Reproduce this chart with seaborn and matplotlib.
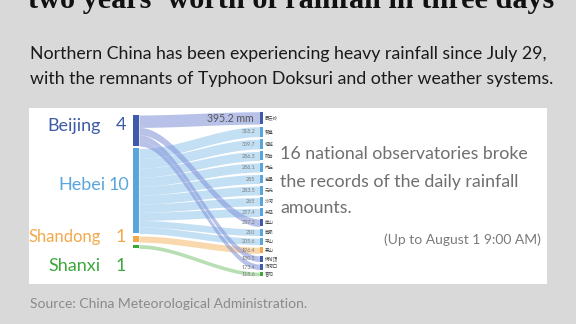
import numpy as np
import matplotlib
matplotlib.use("Agg")
import matplotlib.pyplot as plt
import seaborn as sns
from matplotlib.patches import Rectangle

# ---- data -------------------------------------------------------------
provinces = ["Beijing", "Hebei", "Shandong", "Shanxi"]
province_counts = [4, 10, 1, 1]

stations = ["霞云岭", "赞皇", "临城", "邢台", "内丘", "高邑", "元氏", "沙河",
            "井陉", "房山", "鹿泉", "平山", "泰山", "佛爷顶", "汤河口", "昔阳"]
station_province = ["Beijing", "Hebei", "Hebei", "Hebei", "Hebei", "Hebei",
                    "Hebei", "Hebei", "Hebei", "Beijing", "Hebei", "Hebei",
                    "Shandong", "Beijing", "Beijing", "Shanxi"]
rainfall_mm = [395.2, 318.2, 309.7, 286.3, 286.1, 285.0, 283.5, 265.0,
               257.4, 237.2, 210.0, 205.6, 196.4, 180.5, 173.4, 118.6]
rainfall_labels = ["395.2 mm", "318.2", "309.7", "286.3", "286.1", "285",
                   "283.5", "265", "257.4", "237.2", "210", "205.6", "196.4",
                   "180.5", "173.4", "118.6"]

# ---- style ------------------------------------------------------------
sns.set_theme(style="white")
plt.rcParams["font.family"] = ["Lato", "DejaVu Sans"]

node_colors = dict(zip(provinces, ["#3d5ba8", "#5aa6dc", "#f4a84a", "#3ca83c"]))
flow_colors = dict(zip(provinces, ["#7f91d8", "#9ccbee", "#f8cc92", "#9fd59a"]))
flow_alpha = dict(zip(provinces, [0.55, 0.6, 0.75, 0.75]))

W, H = 576, 324
fig = plt.figure(figsize=(W / 100, H / 100), dpi=100, facecolor="#d9d9d9")
ax = fig.add_axes([0, 0, 1, 1])
ax.set_xlim(0, W)
ax.set_ylim(H, 0)
ax.axis("off")

# white panel behind the diagram
ax.add_patch(Rectangle((29, 108), 518, 176, facecolor="white", edgecolor="none", zorder=0))

# ---- headline texts ---------------------------------------------------
ax.text(291, 8, "two years' worth of rainfall in three days", ha="center",
        va="baseline", fontsize=21.8, fontweight="bold",
        family=["Liberation Serif", "DejaVu Serif"], color="#111111")
ax.text(30, 59, "Northern China has been experiencing heavy rainfall since July 29,",
        ha="left", va="baseline", fontsize=12.75, color="#1a1a1a")
ax.text(30, 84, "with the remnants of Typhoon Doksuri and other weather systems.",
        ha="left", va="baseline", fontsize=12.75, color="#1a1a1a")
ax.text(30, 308, "Source: China Meteorological Administration.", ha="left",
        va="baseline", fontsize=10.0, color="#8a8a8a")

ax.text(280, 159, "16 national observatories broke", ha="left", va="baseline",
        fontsize=12.75, color="#6f6f6f")
ax.text(280, 186.5, "the records of the daily rainfall", ha="left", va="baseline",
        fontsize=12.75, color="#6f6f6f")
ax.text(280, 213, "amounts.", ha="left", va="baseline", fontsize=12.75, color="#6f6f6f")
ax.text(541, 244, "(Up to August 1 9:00 AM)", ha="right", va="baseline",
        fontsize=10.0, color="#7a7a7a")

# ---- sankey geometry --------------------------------------------------
scale = 0.0314             # pixels per mm of rainfall
left_x0, left_x1 = 132.5, 139.0
right_x0, right_x1 = 259.5, 263.0
left_top, left_gap = 115.0, 2.5
right_top, right_gap = 111.7, 2.55

vals = np.array(rainfall_mm)
heights = vals * scale

# right-hand node positions, stacked in station order
right_y = right_top + np.concatenate([[0], np.cumsum(heights[:-1] + right_gap)])

# left-hand node positions, stacked by province
left_y = np.zeros(len(vals))
prov_span = {}
cursor = left_top
for p in provinces:
    start = cursor
    for i, sp in enumerate(station_province):
        if sp == p:
            left_y[i] = cursor
            cursor += heights[i]
    prov_span[p] = (start, cursor)
    cursor += left_gap

# flows: Beijing drawn last so it crosses over the others
xs = np.linspace(left_x1, right_x0, 160)
t = (xs - left_x1) / (right_x0 - left_x1)
s = t * t * (3 - 2 * t)
for p in ["Hebei", "Shandong", "Shanxi", "Beijing"]:
    for i, sp in enumerate(station_province):
        if sp != p:
            continue
        top = left_y[i] + (right_y[i] - left_y[i]) * s
        ax.fill_between(xs, top, top + heights[i], color=flow_colors[p],
                        alpha=flow_alpha[p], linewidth=0, zorder=2)

# left province nodes
for p in provinces:
    y0, y1 = prov_span[p]
    ax.bar(left_x0, y1 - y0, width=left_x1 - left_x0, bottom=y0, align="edge",
           color=node_colors[p], linewidth=0, zorder=3)

# right station nodes with values and names
for i, sp in enumerate(station_province):
    ax.bar(right_x0, heights[i], width=right_x1 - right_x0, bottom=right_y[i],
           align="edge", color=node_colors[sp], linewidth=0, zorder=3)
    yc = right_y[i] + heights[i] / 2
    if i == 0:
        ax.text(253.5, yc + 0.3, rainfall_labels[i], ha="right", va="center",
                fontsize=7.6, color="#555555", zorder=4)
    else:
        ax.text(255, yc + 0.2, rainfall_labels[i], ha="right", va="center",
                fontsize=3.9, color="#7a7a7a", zorder=4)
    ax.text(265, yc, stations[i], ha="left", va="center", fontsize=3.2,
            family=["Noto Sans CJK SC", "DejaVu Sans"], color="#444444", zorder=4)

# province labels
name_right = [101, 105, 100.5, 100.5]
count_center = [121.5, 119, 121, 121]
label_y = [125.5, 185.5, 237, 266]
label_size = [13, 13, 12, 13]
for p, n, xr, xc, yl, fs in zip(provinces, province_counts, name_right,
                                count_center, label_y, label_size):
    ax.text(xr, yl, p, ha="right", va="center", fontsize=fs,
            color=node_colors[p], zorder=4)
    ax.text(xc, yl, str(n), ha="center", va="center", fontsize=13,
            color=node_colors[p], zorder=4)

fig.savefig("out.png", dpi=100, facecolor=fig.get_facecolor())
